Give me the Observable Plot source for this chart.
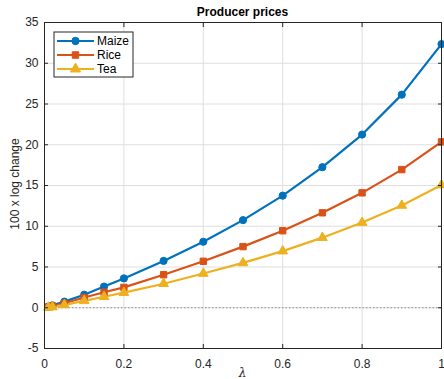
<!DOCTYPE html>
<html>
<head>
<meta charset="utf-8">
<script src="https://cdn.jsdelivr.net/npm/d3@7"></script>
<script src="https://cdn.jsdelivr.net/npm/@observablehq/plot@0.6"></script>
<style>
  html, body { margin: 0; padding: 0; background: #fff; }
  #chart { position: relative; width: 444px; height: 379px; }
  svg { font-family: "Liberation Sans", Arial, sans-serif; }
</style>
</head>
<body>
<div id="chart"></div>
<script>
// Producer price response (100 x log change) against lambda
const lambda = [0.01, 0.02, 0.05, 0.1, 0.15, 0.2, 0.3, 0.4, 0.5, 0.6, 0.7, 0.8, 0.9, 1.0];
const maize  = [0.15, 0.3, 0.75, 1.6, 2.6, 3.6, 5.75, 8.1, 10.75, 13.75, 17.25, 21.25, 26.15, 32.35];
const rice   = [0.1, 0.2, 0.55, 1.25, 1.9, 2.5, 4.05, 5.7, 7.5, 9.45, 11.65, 14.1, 16.95, 20.35];
const tea    = [0.05, 0.1, 0.35, 0.85, 1.35, 1.85, 2.95, 4.2, 5.5, 6.95, 8.6, 10.45, 12.55, 15.05];
const seriesNames = ["Maize", "Rice", "Tea"];
const seriesColors = ["#0072BD", "#D95319", "#EDB120"];
const seriesSymbols = ["circle", "square", "triangle"];
const xTicks = [0, 0.2, 0.4, 0.6, 0.8, 1];
const yTicks = [-5, 0, 5, 10, 15, 20, 25, 30, 35];

const rows = [];
[maize, rice, tea].forEach((vals, s) => {
  vals.forEach((v, i) => rows.push({series: seriesNames[s], x: lambda[i], y: v}));
});

const axisStyle = {tickSize: -4, fontSize: 12};
const W = 444, H = 379;
const plot = Plot.plot({
  width: W,
  height: H,
  marginLeft: 44,
  marginRight: 3,
  marginTop: 22,
  marginBottom: 31,
  style: {fontSize: "12px", color: "#262626", background: "#fff"},
  x: {domain: [0, 1], label: null},
  y: {domain: [-5, 35], label: null},
  color: {domain: seriesNames, range: seriesColors},
  symbol: {domain: seriesNames, range: seriesSymbols},
  marks: [
    Plot.gridX(xTicks, {stroke: "#dedede", strokeOpacity: 1, strokeWidth: 1}),
    Plot.gridY(yTicks, {stroke: "#dedede", strokeOpacity: 1, strokeWidth: 1}),
    Plot.ruleY([0], {stroke: "#8c8c8c", strokeDasharray: "1.5,2", strokeWidth: 1}),
    Plot.line(rows, {x: "x", y: "y", z: "series", stroke: "series", strokeWidth: 2.2}),
    Plot.dot(rows, {x: "x", y: "y", symbol: "series", fill: "series", stroke: "series", r: 3.6, strokeWidth: 1}),
    Plot.axisX(xTicks, {anchor: "bottom", ...axisStyle, tickPadding: 15, tickFormat: d => String(d), label: null}),
    Plot.axisX(xTicks, {anchor: "top", ...axisStyle, tickFormat: () => "", label: null}),
    Plot.axisY(yTicks, {anchor: "left", ...axisStyle, tickPadding: 10, tickFormat: d => String(d), label: null}),
    Plot.axisY(yTicks, {anchor: "right", ...axisStyle, tickFormat: () => "", label: null}),
    Plot.frame({stroke: "#262626", strokeWidth: 1})
  ]
});
document.getElementById("chart").appendChild(plot);

// Titles and legend, layered on the same SVG
const svg = d3.select(plot);
const plotLeft = 44, plotRight = W - 3;
svg.append("text")
  .attr("x", (plotLeft + plotRight) / 2).attr("y", 16)
  .attr("text-anchor", "middle").attr("font-weight", "bold")
  .attr("font-size", 12).attr("fill", "#000")
  .text("Producer prices");
svg.append("text")
  .attr("x", (plotLeft + plotRight) / 2).attr("y", 377)
  .attr("text-anchor", "middle").attr("font-style", "italic")
  .attr("font-family", "'DejaVu Serif', serif")
  .attr("font-size", 12).attr("fill", "#262626")
  .text("λ");
svg.append("text")
  .attr("transform", "translate(19,184) rotate(-90)")
  .attr("text-anchor", "middle")
  .attr("font-size", 12).attr("fill", "#262626")
  .text("100 x log change");

const lg = svg.append("g").attr("transform", "translate(54,32)");
lg.append("rect").attr("width", 79).attr("height", 45)
  .attr("fill", "#fff").attr("stroke", "#262626").attr("stroke-width", 1);
seriesNames.forEach((name, i) => {
  const y = 9 + i * 14;
  lg.append("line").attr("x1", 3).attr("x2", 40).attr("y1", y).attr("y2", y)
    .attr("stroke", seriesColors[i]).attr("stroke-width", 2.2);
  const sym = d3.symbol().type([d3.symbolCircle, d3.symbolSquare, d3.symbolTriangle][i]).size(i === 2 ? 45 : 42);
  lg.append("path").attr("d", sym()).attr("transform", `translate(21.5,${y})`)
    .attr("fill", seriesColors[i]).attr("stroke", seriesColors[i]);
  lg.append("text").attr("x", 43).attr("y", y + 4)
    .attr("text-anchor", "start")
    .attr("font-size", 12).attr("fill", "#000").text(name);
});
</script>
</body>
</html>
